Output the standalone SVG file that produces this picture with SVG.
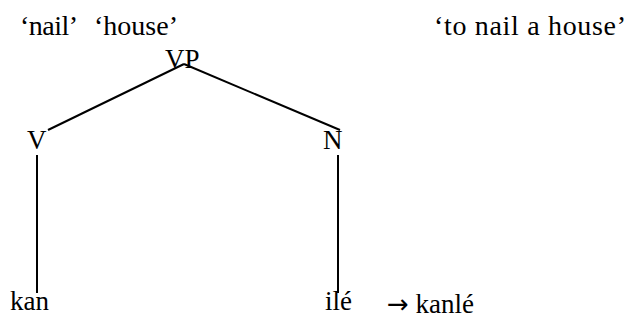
<svg xmlns="http://www.w3.org/2000/svg" width="631" height="320" viewBox="0 0 631 320">
<style>
text{font-family:"Liberation Serif","Times New Roman",serif;fill:#000}
.g{font-size:28px}
.n{font-size:27px}
.arr{font-family:"DejaVu Sans",sans-serif;font-size:26px}
line{stroke:#000;stroke-width:2}
</style>
<rect width="631" height="320" fill="#fff"/>
<g id="glosses">
<text class="g" x="20" y="35" textLength="58" lengthAdjust="spacing">‘nail’</text>
<text class="g" x="94" y="35" textLength="84" lengthAdjust="spacing">‘house’</text>
<text class="g" x="434" y="35" textLength="192" lengthAdjust="spacing">‘to nail a house’</text>
</g>
<g id="connectors">
<line x1="184" y1="64" x2="48" y2="130"/>
<line x1="184" y1="64" x2="340" y2="130"/>
<line x1="37" y1="155" x2="37" y2="293"/>
<line x1="338" y1="155" x2="338" y2="293"/>
</g>
<g id="VP"><text class="n" x="165" y="68">VP</text></g>
<g id="V"><text class="n" x="27" y="149">V</text></g>
<g id="N"><text class="n" x="323" y="149">N</text></g>
<g id="kan"><text class="n" x="10" y="310">kan</text></g>
<g id="ile"><text class="n" x="325" y="310">ilé</text></g>
<g id="result"><text class="n" x="387" y="313"><tspan class="arr">→</tspan> kanlé</text></g>
</svg>
